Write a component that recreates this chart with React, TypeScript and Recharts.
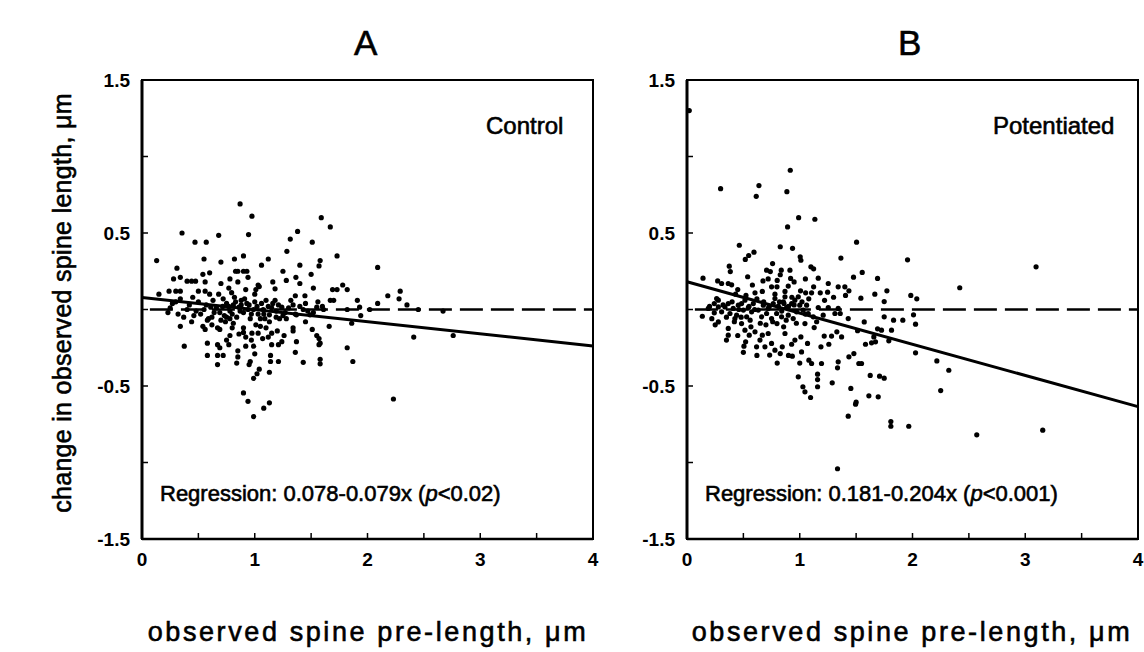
import { ScatterChart, Scatter, XAxis, YAxis, ReferenceLine, ReferenceArea } from "recharts";

// [pre-length, change] pairs
const controlPoints: [number, number][] = [
  [0.87, 0.69], [0.975, 0.61], [1.59, 0.6], [1.67, 0.54], [0.355, 0.5], [0.68, 0.485], [0.945, 0.49], [1.38, 0.51],
  [0.47, 0.44], [0.57, 0.44], [1.51, 0.44], [1.315, 0.46], [1.285, 0.38], [1.73, 0.35], [0.13, 0.32], [0.55, 0.33],
  [0.7, 0.31], [0.82, 0.33], [0.9, 0.35], [1.12, 0.33], [1.06, 0.29], [1.58, 0.32], [1.57, 0.285], [1.4, 0.29],
  [2.09, 0.275], [0.31, 0.27], [0.83, 0.25], [0.85, 0.25], [0.9, 0.25], [0.93, 0.25], [0.28, 0.2], [0.34, 0.21],
  [0.4, 0.185], [0.44, 0.185], [0.475, 0.185], [0.54, 0.23], [0.56, 0.18], [0.78, 0.2], [0.94, 0.21], [1.03, 0.16],
  [1.04, 0.15], [1.28, 0.19], [1.365, 0.21], [1.4, 0.17], [1.52, 0.14], [1.78, 0.16], [1.73, 0.13], [1.69, 0.13],
  [1.82, 0.13], [0.24, 0.12], [0.3, 0.12], [0.34, 0.12], [0.15, 0.1], [0.5, 0.12], [0.56, 0.12], [0.6, 0.1],
  [0.68, 0.1], [0.77, 0.14], [0.795, 0.11], [0.92, 0.13], [1.01, 0.13], [1.0, 0.1], [1.18, 0.135], [1.36, 0.09],
  [1.445, 0.09], [1.67, 0.06], [1.91, 0.06], [2.18, 0.09], [2.29, 0.12], [2.28, 0.07], [2.09, 0.04], [2.35, 0.03],
  [0.34, 0.07],
  [0.23, -0.02], [0.25, 0.01], [0.27, 0.04], [0.37, -0.05], [0.4, 0.0], [0.46, -0.04], [0.55, 0.0], [0.61, 0.015],
  [0.66, 0.01], [0.69, -0.02], [0.715, 0.02], [0.75, 0.04], [0.78, -0.01], [0.81, 0.03], [0.83, 0.05], [0.86, 0.015],
  [0.88, 0.06], [0.9, -0.02], [0.93, 0.04], [0.94, 0.0], [0.99, 0.0], [1.03, -0.03], [1.075, 0.0], [1.12, 0.02],
  [1.16, 0.04], [1.19, -0.01], [1.24, 0.015], [1.27, -0.02], [1.34, 0.03], [1.36, -0.03], [1.43, 0.0], [1.47, -0.01],
  [1.55, 0.015], [1.6, 0.02], [1.82, 0.0], [1.93, 0.015], [1.94, -0.04], [2.02, 0.0], [2.45, 0.0], [2.67, -0.01],
  [0.48, -0.01], [0.59, -0.06], [0.62, -0.05], [0.7, -0.07], [0.75, -0.05], [0.84, -0.05], [0.96, -0.06], [1.05, -0.06],
  [1.13, -0.035], [1.19, -0.05], [1.28, -0.06], [1.37, -0.035], [1.49, -0.035], [1.61, 0.0],
  [0.3, 0.05], [0.32, -0.03], [0.42, 0.03], [0.44, -0.08], [0.5, 0.05], [0.52, -0.03], [0.57, 0.03], [0.63, 0.06],
  [0.64, -0.02], [0.72, 0.07], [0.73, -0.04], [0.77, 0.02], [0.8, -0.03], [0.82, 0.08], [0.87, -0.01], [0.88, 0.03],
  [0.91, 0.07], [0.95, 0.03], [0.97, -0.03], [1.0, 0.05], [1.02, 0.02], [1.06, 0.04], [1.08, -0.03], [1.1, 0.06],
  [1.15, 0.01], [1.18, 0.06], [1.21, 0.03], [1.25, -0.04], [1.3, 0.01], [1.32, 0.06], [1.4, 0.02], [1.45, 0.04],
  [1.52, -0.02], [1.56, 0.05], [0.62, -0.1], [0.8, -0.12], [0.86, -0.16], [1.1, -0.12], [1.2, -0.14], [1.45, -0.08],
  [0.7, 0.17], [0.85, 0.18], [1.16, 0.18], [1.25, 0.25], [0.6, 0.24], [0.45, 0.08], [1.5, 0.23], [1.7, 0.06],
  [0.34, -0.11], [0.375, -0.24], [0.54, -0.11], [0.58, -0.07], [0.56, -0.13], [0.67, -0.12], [0.69, -0.13], [0.58, -0.22],
  [0.58, -0.3], [0.67, -0.23], [0.69, -0.25], [0.67, -0.3], [0.67, -0.36], [0.72, -0.3], [0.75, -0.2], [0.77, -0.23],
  [0.78, -0.17], [0.74, -0.08], [0.81, -0.09], [0.78, -0.06], [0.85, -0.27], [0.85, -0.31], [0.84, -0.35], [0.9, -0.12],
  [0.9, -0.15], [0.92, -0.24], [0.96, -0.34], [0.95, -0.36], [0.92, -0.18], [0.97, -0.2], [0.975, -0.155], [0.99, -0.24],
  [1.0, -0.29], [1.01, -0.1], [1.03, -0.155], [1.05, -0.11], [1.07, -0.19], [0.99, -0.45], [1.02, -0.42], [1.04, -0.39],
  [1.13, -0.41], [1.09, -0.06], [1.13, -0.08], [1.15, -0.155], [1.12, -0.18], [1.14, -0.3], [1.14, -0.34], [1.21, -0.34],
  [1.15, -0.23], [1.21, -0.23], [1.24, -0.21], [1.26, -0.17], [1.22, -0.06], [1.34, -0.12], [1.34, -0.14], [1.37, -0.21],
  [1.36, -0.28], [1.43, -0.345], [1.51, -0.13], [1.55, -0.17], [1.57, -0.19], [1.58, -0.22], [1.57, -0.23], [1.58, -0.325],
  [1.58, -0.355], [1.66, -0.11], [1.82, -0.25], [1.87, -0.34], [1.86, -0.09], [2.41, -0.18], [2.76, -0.17], [2.23, -0.585],
  [0.9, -0.545], [0.94, -0.6], [0.99, -0.7], [1.08, -0.645], [1.13, -0.61],
];

const potentiatedPoints: [number, number][] = [
  [0.02, 1.3], [0.916, 0.91], [0.298, 0.79], [0.638, 0.81], [0.614, 0.74], [0.886, 0.77], [0.99, 0.6], [1.134, 0.59],
  [0.892, 0.54], [1.504, 0.44], [0.464, 0.42], [0.827, 0.41], [0.936, 0.4], [0.594, 0.375], [0.547, 0.353], [0.517, 0.327],
  [1.004, 0.344], [1.01, 0.322], [1.099, 0.279], [1.123, 0.266], [1.365, 0.336], [1.956, 0.325], [3.096, 0.279], [2.419, 0.142],
  [0.759, 0.3], [0.706, 0.257], [0.739, 0.248], [0.836, 0.257], [0.827, 0.227], [0.913, 0.257], [0.919, 0.203], [0.375, 0.283],
  [0.384, 0.248], [0.538, 0.214], [1.164, 0.205], [1.477, 0.211], [1.554, 0.242], [1.69, 0.203], [0.142, 0.205], [0.272, 0.187],
  [0.307, 0.17], [0.366, 0.17], [0.396, 0.161], [0.674, 0.187], [0.75, 0.148], [0.798, 0.148], [0.869, 0.118], [0.898, 0.153],
  [1.007, 0.122], [1.052, 0.109], [1.105, 0.109], [1.123, 0.148], [1.182, 0.109], [1.253, 0.17], [1.247, 0.113], [1.341, 0.148],
  [1.4, 0.148], [1.406, 0.092], [1.436, 0.122], [1.542, 0.074], [1.666, 0.1], [1.773, 0.122], [1.749, 0.052], [1.985, 0.092],
  [2.038, 0.07], [2.009, -0.035], [2.027, -0.096],
  [0.263, 0.072], [0.366, 0.039], [0.431, 0.1], [0.523, 0.092], [0.603, 0.109], [0.668, 0.118],
  [0.136, -0.044], [0.242, 0.039], [0.242, -0.022], [0.278, 0.017], [0.337, 0.017], [0.41, 0.007], [0.455, 0.028], [0.5, -0.004],
  [0.544, 0.013], [0.588, 0.039], [0.632, -0.004], [0.677, 0.028], [0.72, 0.007], [0.765, 0.039], [0.81, 0.022], [0.854, 0.05],
  [0.883, 0.013], [0.928, 0.039], [0.957, 0.061], [1.0, 0.028], [1.03, -0.004], [1.075, -0.026], [1.164, 0.013], [1.208, -0.037],
  [1.253, 0.013], [1.312, -0.026], [1.341, 0.007],
  [0.189, 0.007], [0.307, -0.015], [0.381, -0.026], [0.44, -0.037], [0.484, 0.039], [0.529, -0.048], [0.573, -0.015], [0.662, -0.048],
  [0.706, -0.026], [0.75, -0.059], [0.795, -0.026], [0.839, -0.048], [0.898, -0.037], [0.942, -0.059], [0.972, -0.015], [1.061, 0.028],
  [1.12, -0.048], [0.278, 0.061], [0.514, 0.061], [0.78, 0.072], [0.869, 0.083], [0.987, 0.083],
  [0.2, 0.02], [0.22, -0.06], [0.32, 0.03], [0.35, -0.05], [0.4, 0.05], [0.42, -0.08], [0.46, 0.0], [0.48, -0.05],
  [0.55, 0.02], [0.56, -0.07], [0.6, 0.0], [0.62, 0.07], [0.65, -0.09], [0.68, 0.05], [0.7, -0.1], [0.73, 0.02],
  [0.76, -0.08], [0.78, 0.1], [0.82, 0.05], [0.84, -0.01], [0.86, 0.04], [0.88, -0.07], [0.9, 0.02], [0.93, 0.08],
  [0.95, 0.03], [0.97, -0.09], [1.02, 0.05], [1.05, -0.03], [1.08, 0.07], [1.15, -0.08], [1.22, 0.06], [1.3, 0.08],
  [0.45, 0.13], [0.58, 0.16], [0.72, 0.2], [0.8, 0.19], [0.95, 0.18], [1.05, 0.2], [0.35, -0.2], [0.45, -0.17],
  [0.62, -0.3], [0.8, -0.35], [0.9, -0.3], [1.0, -0.35], [0.5, -0.28], [0.25, -0.1],
  [0.278, -0.081], [0.366, -0.124], [0.366, -0.168], [0.425, -0.059], [0.484, -0.092], [0.514, -0.135], [0.52, -0.211], [0.505, -0.24],
  [0.552, -0.168], [0.567, -0.113], [0.617, -0.244], [0.603, -0.146], [0.647, -0.2], [0.668, -0.168], [0.691, -0.244], [0.72, -0.157],
  [0.733, -0.298], [0.75, -0.222], [0.78, -0.266], [0.798, -0.092], [0.827, -0.288], [0.845, -0.244], [0.857, -0.113], [0.869, -0.157],
  [0.928, -0.227], [0.934, -0.305], [0.957, -0.2], [1.01, -0.179], [1.016, -0.277], [1.046, -0.092], [1.069, -0.222], [1.081, -0.331],
  [1.105, -0.353], [1.128, -0.118], [1.188, -0.244], [1.193, -0.353], [1.217, -0.174], [1.258, -0.227], [1.282, -0.174], [1.329, -0.146],
  [1.341, -0.342], [1.335, -0.381], [1.359, -0.026], [1.371, -0.179], [1.43, -0.059], [1.436, -0.309], [1.48, -0.288], [1.513, -0.139],
  [1.524, -0.353], [1.548, -0.353], [1.572, -0.081], [1.583, -0.227], [1.637, -0.218], [1.657, -0.179], [1.672, -0.211], [1.69, -0.126],
  [1.725, -0.135], [1.749, -0.048], [1.814, -0.135], [1.79, -0.205], [1.832, -0.07], [1.914, -0.07], [2.027, -0.283], [2.216, -0.336],
  [2.322, -0.397], [2.25, -0.53],
  [0.987, -0.44], [1.028, -0.505], [1.046, -0.538], [1.096, -0.575], [1.158, -0.423], [1.158, -0.458], [1.158, -0.505], [1.288, -0.479],
  [1.453, -0.516], [1.5, -0.606], [1.495, -0.619], [1.43, -0.697], [1.625, -0.431], [1.708, -0.436], [1.749, -0.449], [1.613, -0.564],
  [1.696, -0.571], [1.808, -0.732], [1.808, -0.763], [1.967, -0.763], [2.57, -0.819], [3.155, -0.789], [1.335, -1.041],
];

// regression intercept / slope printed in each panel
const controlFit = { a: 0.078, b: -0.079 };
const potentiatedFit = { a: 0.181, b: -0.204 };

const xTicks = [0, 0.5, 1, 1.5, 2, 2.5, 3, 3.5, 4];
const yTicks = [-1.5, -1, -0.5, 0, 0.5, 1, 1.5];

const FONT = '"Liberation Sans", Arial, Helvetica, sans-serif';

const Dot = (p: any) => <circle cx={p.cx} cy={p.cy} r={2.6} fill="#000" />;

const tickStyle = { fill: "#000", fontSize: 19, fontWeight: "bold" as const, fontFamily: FONT };

function Panel({ points, fit }: { points: [number, number][]; fit: { a: number; b: number } }) {
  const data = points.map(([x, y]) => ({ x, y }));
  return (
    <ScatterChart width={600} height={652} margin={{ top: 80, right: 7, bottom: 0, left: 0 }}>
      <XAxis
        type="number"
        dataKey="x"
        domain={[0, 4]}
        ticks={xTicks}
        tickFormatter={(v: number) => (Number.isInteger(v) ? String(v) : "")}
        tickSize={-6}
        tickMargin={20}
        height={113}
        axisLine={{ stroke: "#000", strokeWidth: 2.5 }}
        tickLine={{ stroke: "#000", strokeWidth: 1.5 }}
        tick={tickStyle}
        allowDataOverflow
      />
      <YAxis
        type="number"
        dataKey="y"
        domain={[-1.5, 1.5]}
        ticks={yTicks}
        tickFormatter={(v: number) => (Math.abs(v) === 1.5 || Math.abs(v) === 0.5 ? String(v) : "")}
        tickSize={-6}
        tickMargin={18}
        width={142}
        axisLine={{ stroke: "#000", strokeWidth: 3 }}
        tickLine={{ stroke: "#000", strokeWidth: 1.5 }}
        tick={tickStyle}
        allowDataOverflow
      />
      <ReferenceArea x1={0} x2={4} y1={-1.5} y2={1.5} fill="none" stroke="#000" strokeWidth={2} fillOpacity={0} />
      <ReferenceLine
        segment={[{ x: 0.07, y: 0 }, { x: 4, y: 0 }]}
        stroke="#000"
        strokeWidth={2.5}
        strokeDasharray="23 8"
      />
      <ReferenceLine
        segment={[{ x: 0, y: fit.a }, { x: 4, y: fit.a + fit.b * 4 }]}
        stroke="#000"
        strokeWidth={3}
      />
      <Scatter data={data} shape={Dot} isAnimationActive={false} />
    </ScatterChart>
  );
}

const txt = (extra: React.CSSProperties): React.CSSProperties => ({
  position: "absolute",
  fontFamily: FONT,
  color: "#000",
  whiteSpace: "nowrap",
  WebkitTextStroke: "0.6px #000",
  ...extra,
});

export default function App() {
  return (
    <div style={{ position: "absolute", left: 0, top: 0, width: 1144, height: 652, background: "#fff", overflow: "hidden" }}>
      <div style={{ position: "absolute", left: 0, top: 0 }}>
        <Panel points={controlPoints} fit={controlFit} />
      </div>
      <div style={{ position: "absolute", left: 545, top: 0 }}>
        <Panel points={potentiatedPoints} fit={potentiatedFit} />
      </div>

      <div style={txt({ left: 354, top: 23, fontSize: 35 })}>A</div>
      <div style={txt({ left: 898, top: 23, fontSize: 35 })}>B</div>

      <div style={txt({ left: 486, top: 112, fontSize: 24 })}>Control</div>
      <div style={txt({ left: 993, top: 112, fontSize: 24 })}>Potentiated</div>

      <div style={txt({ left: 160, top: 481, fontSize: 22 })}>
        Regression: 0.078-0.079x (<i>p</i>&lt;0.02)
      </div>
      <div style={txt({ left: 705, top: 481, fontSize: 22 })}>
        Regression: 0.181-0.204x (<i>p</i>&lt;0.001)
      </div>

      <div style={txt({ left: 368, top: 617, fontSize: 27, letterSpacing: 2.6, transform: "translateX(-50%)" })}>
        observed spine pre-length, μm
      </div>
      <div style={txt({ left: 912, top: 617, fontSize: 27, letterSpacing: 2.6, transform: "translateX(-50%)" })}>
        observed spine pre-length, μm
      </div>

      <div
        style={txt({
          left: 62,
          top: 303,
          fontSize: 25,
          letterSpacing: 0.3,
          transform: "translate(-50%, -50%) rotate(-90deg)",
        })}
      >
        change in observed spine length, μm
      </div>
    </div>
  );
}
